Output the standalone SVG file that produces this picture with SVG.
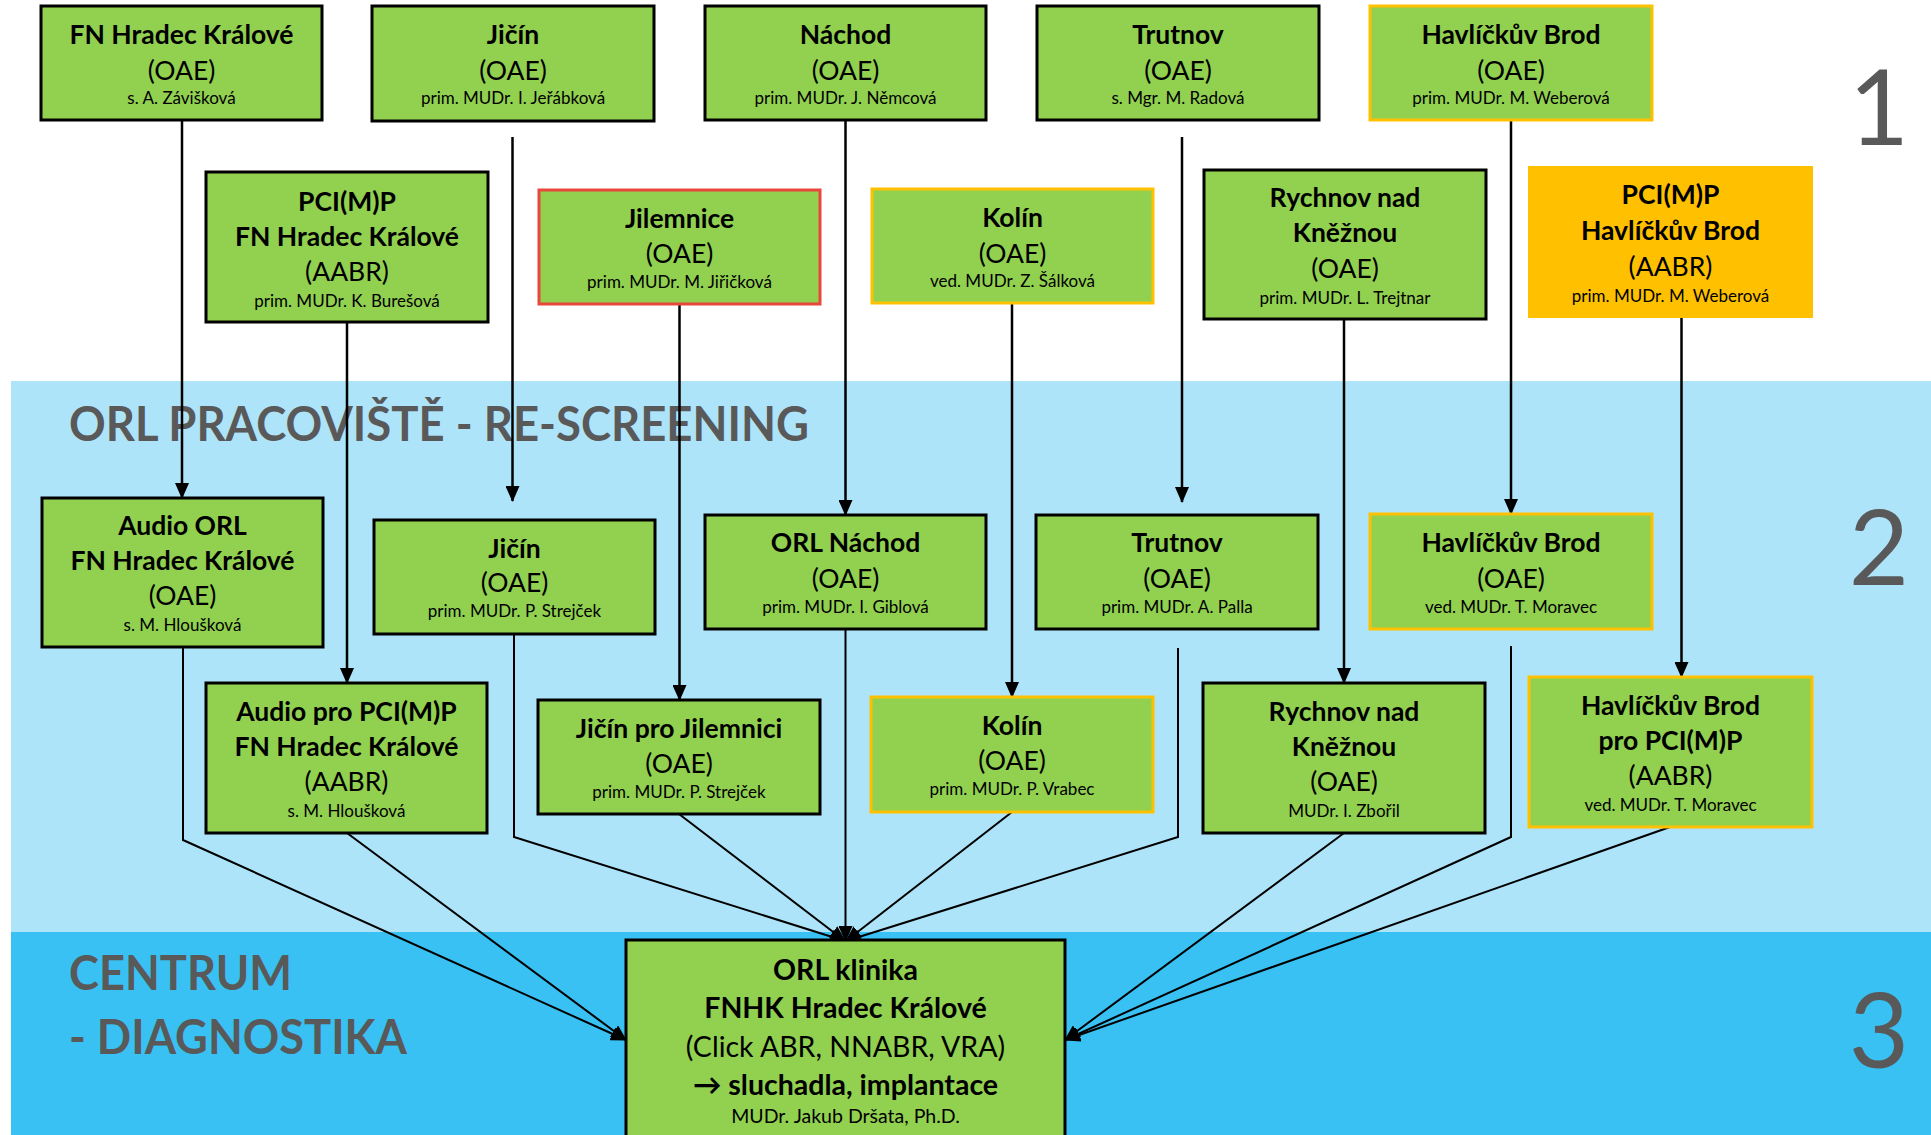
<svg xmlns="http://www.w3.org/2000/svg" width="1931" height="1135" viewBox="0 0 1931 1135">
<defs>
<style>
.box{fill:#92D050;stroke:#000;stroke-width:3}
.yb{fill:#92D050;stroke:#FFC000;stroke-width:3}
.rb{fill:#92D050;stroke:#E8473B;stroke-width:3}
.ob{fill:#FFC000;stroke:#FFC000;stroke-width:2}
text{font-family:Lato,"Liberation Sans","DejaVu Sans",sans-serif;text-anchor:middle;fill:#000}
.t{font-size:26.5px;font-weight:700}
.s{font-size:26.5px}
.n{font-size:17px}
.ct{font-size:28.5px;font-weight:700}
.cs{font-size:28.5px}
.cn{font-size:19.5px}
.lab{font-size:48px;font-weight:700;fill:#595959;text-anchor:start}
.dig{font-size:104px;fill:#595959}
.c line,.c polyline{stroke:#000;stroke-width:2;fill:none}
.c .a{stroke-width:2.5}
</style>
<marker id="ah" markerWidth="16" markerHeight="14" refX="15" refY="7" orient="auto" markerUnits="userSpaceOnUse"><path d="M0,0 L16,7 L0,14 z" fill="#000"/></marker>
</defs>
<rect width="1931" height="1135" fill="#fff"/>
<rect x="11" y="381" width="1920" height="551" fill="#AEE4F9"/>
<rect x="11" y="932" width="1920" height="203" fill="#38C1F2"/>
<text class="lab" x="69" y="441" textLength="740" lengthAdjust="spacingAndGlyphs">ORL PRACOVIŠTĚ - RE-SCREENING</text>
<text class="lab" x="69" y="990" textLength="223" lengthAdjust="spacingAndGlyphs">CENTRUM</text>
<text class="lab" x="69" y="1054" textLength="338" lengthAdjust="spacingAndGlyphs">- DIAGNOSTIKA</text>
<text class="dig" x="1879" y="145">1</text>
<text class="dig" x="1879" y="585">2</text>
<text class="dig" x="1879" y="1068">3</text>

<g id="connectors" class="c">
<line class="a" x1="182" y1="120" x2="182" y2="498" marker-end="url(#ah)"/>
<line class="a" x1="512.5" y1="137" x2="512.5" y2="501" marker-end="url(#ah)"/>
<line class="a" x1="845.5" y1="120" x2="845.5" y2="515" marker-end="url(#ah)"/>
<line class="a" x1="1182" y1="137" x2="1182" y2="502" marker-end="url(#ah)"/>
<line class="a" x1="1511" y1="120" x2="1511" y2="514" marker-end="url(#ah)"/>
<line class="a" x1="347" y1="322" x2="347" y2="683" marker-end="url(#ah)"/>
<line class="a" x1="679.5" y1="304" x2="679.5" y2="700" marker-end="url(#ah)"/>
<line class="a" x1="1012" y1="303" x2="1012" y2="697" marker-end="url(#ah)"/>
<line class="a" x1="1344" y1="319" x2="1344" y2="683" marker-end="url(#ah)"/>
<line class="a" x1="1681.5" y1="317" x2="1681.5" y2="677" marker-end="url(#ah)"/>
<polyline points="183,647 183,840 626,1040" marker-end="url(#ah)"/>
<line x1="347" y1="833" x2="626" y2="1040" marker-end="url(#ah)"/>
<polyline points="514,634 514,837 845,941" marker-end="url(#ah)"/>
<line x1="679" y1="814" x2="845" y2="941" marker-end="url(#ah)"/>
<line x1="845.5" y1="629" x2="845.5" y2="941" marker-end="url(#ah)"/>
<line x1="1012" y1="812" x2="846" y2="941" marker-end="url(#ah)"/>
<polyline points="1178,648 1178,837 846,941" marker-end="url(#ah)"/>
<line x1="1344" y1="833" x2="1065" y2="1040" marker-end="url(#ah)"/>
<polyline points="1511,646 1511,837 1065,1040" marker-end="url(#ah)"/>
<line x1="1670" y1="827" x2="1065" y2="1040" marker-end="url(#ah)"/>
</g>

<g id="n1"><rect class="box" x="41" y="6" width="281" height="114"/>
<text class="t" x="181.5" y="44">FN Hradec Králové</text><text class="s" x="181.5" y="80">(OAE)</text><text class="n" x="181.5" y="104">s. A. Závišková</text></g>
<g id="n2"><rect class="box" x="372" y="6" width="282" height="115"/>
<text class="t" x="513" y="44">Jičín</text><text class="s" x="513" y="80">(OAE)</text><text class="n" x="513" y="104">prim. MUDr. I. Jeřábková</text></g>
<g id="n3"><rect class="box" x="705" y="6" width="281" height="114"/>
<text class="t" x="845.5" y="44">Náchod</text><text class="s" x="845.5" y="80">(OAE)</text><text class="n" x="845.5" y="104">prim. MUDr. J. Němcová</text></g>
<g id="n4"><rect class="box" x="1037" y="6" width="282" height="114"/>
<text class="t" x="1178" y="44">Trutnov</text><text class="s" x="1178" y="80">(OAE)</text><text class="n" x="1178" y="104">s. Mgr. M. Radová</text></g>
<g id="n5"><rect class="yb" x="1370" y="6" width="282" height="114"/>
<text class="t" x="1511" y="44">Havlíčkův Brod</text><text class="s" x="1511" y="80">(OAE)</text><text class="n" x="1511" y="104">prim. MUDr. M. Weberová</text></g>

<g id="n6"><rect class="box" x="206" y="172" width="282" height="150"/>
<text class="t" x="347" y="211">PCI(M)P</text><text class="t" x="347" y="246">FN Hradec Králové</text><text class="s" x="347" y="281">(AABR)</text><text class="n" x="347" y="307">prim. MUDr. K. Burešová</text></g>
<g id="n7"><rect class="rb" x="539" y="190" width="281" height="114"/>
<text class="t" x="679.5" y="228">Jilemnice</text><text class="s" x="679.5" y="263">(OAE)</text><text class="n" x="679.5" y="288">prim. MUDr. M. Jiřičková</text></g>
<g id="n8"><rect class="yb" x="872" y="189" width="281" height="114"/>
<text class="t" x="1012.5" y="227">Kolín</text><text class="s" x="1012.5" y="263">(OAE)</text><text class="n" x="1012.5" y="287">ved. MUDr. Z. Šálková</text></g>
<g id="n9"><rect class="box" x="1204" y="170" width="282" height="149"/>
<text class="t" x="1345" y="207">Rychnov nad</text><text class="t" x="1345" y="242">Kněžnou</text><text class="s" x="1345" y="278">(OAE)</text><text class="n" x="1345" y="304">prim. MUDr. L. Trejtnar</text></g>
<g id="n10"><rect class="ob" x="1529" y="167" width="283" height="150"/>
<text class="t" x="1670.5" y="204">PCI(M)P</text><text class="t" x="1670.5" y="240">Havlíčkův Brod</text><text class="s" x="1670.5" y="276">(AABR)</text><text class="n" x="1670.5" y="302">prim. MUDr. M. Weberová</text></g>

<g id="n11"><rect class="box" x="42" y="498" width="281" height="149"/>
<text class="t" x="182.5" y="535">Audio ORL</text><text class="t" x="182.5" y="570">FN Hradec Králové</text><text class="s" x="182.5" y="605">(OAE)</text><text class="n" x="182.5" y="631">s. M. Hloušková</text></g>
<g id="n12"><rect class="box" x="374" y="520" width="281" height="114"/>
<text class="t" x="514.5" y="558">Jičín</text><text class="s" x="514.5" y="592">(OAE)</text><text class="n" x="514.5" y="617">prim. MUDr. P. Strejček</text></g>
<g id="n13"><rect class="box" x="705" y="515" width="281" height="114"/>
<text class="t" x="845.5" y="552">ORL Náchod</text><text class="s" x="845.5" y="588">(OAE)</text><text class="n" x="845.5" y="613">prim. MUDr. I. Giblová</text></g>
<g id="n14"><rect class="box" x="1036" y="515" width="282" height="114"/>
<text class="t" x="1177" y="552">Trutnov</text><text class="s" x="1177" y="588">(OAE)</text><text class="n" x="1177" y="613">prim. MUDr. A. Palla</text></g>
<g id="n15"><rect class="yb" x="1370" y="514" width="282" height="115"/>
<text class="t" x="1511" y="552">Havlíčkův Brod</text><text class="s" x="1511" y="588">(OAE)</text><text class="n" x="1511" y="613">ved. MUDr. T. Moravec</text></g>

<g id="n16"><rect class="box" x="206" y="683" width="281" height="150"/>
<text class="t" x="346.5" y="721">Audio pro PCI(M)P</text><text class="t" x="346.5" y="756">FN Hradec Králové</text><text class="s" x="346.5" y="791">(AABR)</text><text class="n" x="346.5" y="817">s. M. Hloušková</text></g>
<g id="n17"><rect class="box" x="538" y="700" width="282" height="114"/>
<text class="t" x="679" y="738">Jičín pro Jilemnici</text><text class="s" x="679" y="773">(OAE)</text><text class="n" x="679" y="798">prim. MUDr. P. Strejček</text></g>
<g id="n18"><rect class="yb" x="871" y="697" width="282" height="115"/>
<text class="t" x="1012" y="735">Kolín</text><text class="s" x="1012" y="770">(OAE)</text><text class="n" x="1012" y="795">prim. MUDr. P. Vrabec</text></g>
<g id="n19"><rect class="box" x="1203" y="683" width="282" height="150"/>
<text class="t" x="1344" y="721">Rychnov nad</text><text class="t" x="1344" y="756">Kněžnou</text><text class="s" x="1344" y="791">(OAE)</text><text class="n" x="1344" y="817">MUDr. I. Zbořil</text></g>
<g id="n20"><rect class="yb" x="1529" y="677" width="283" height="150"/>
<text class="t" x="1670.5" y="715">Havlíčkův Brod</text><text class="t" x="1670.5" y="750">pro PCI(M)P</text><text class="s" x="1670.5" y="785">(AABR)</text><text class="n" x="1670.5" y="811">ved. MUDr. T. Moravec</text></g>

<g id="n21"><rect class="box" x="626" y="940" width="439" height="210"/>
<text class="ct" x="845.5" y="980">ORL klinika</text><text class="ct" x="845.5" y="1018">FNHK Hradec Králové</text><text class="cs" x="845.5" y="1057">(Click ABR, NNABR, VRA)</text><text class="ct" x="845.5" y="1095">→ sluchadla, implantace</text><text class="cn" x="845.5" y="1123">MUDr. Jakub Dršata, Ph.D.</text></g>
</svg>
